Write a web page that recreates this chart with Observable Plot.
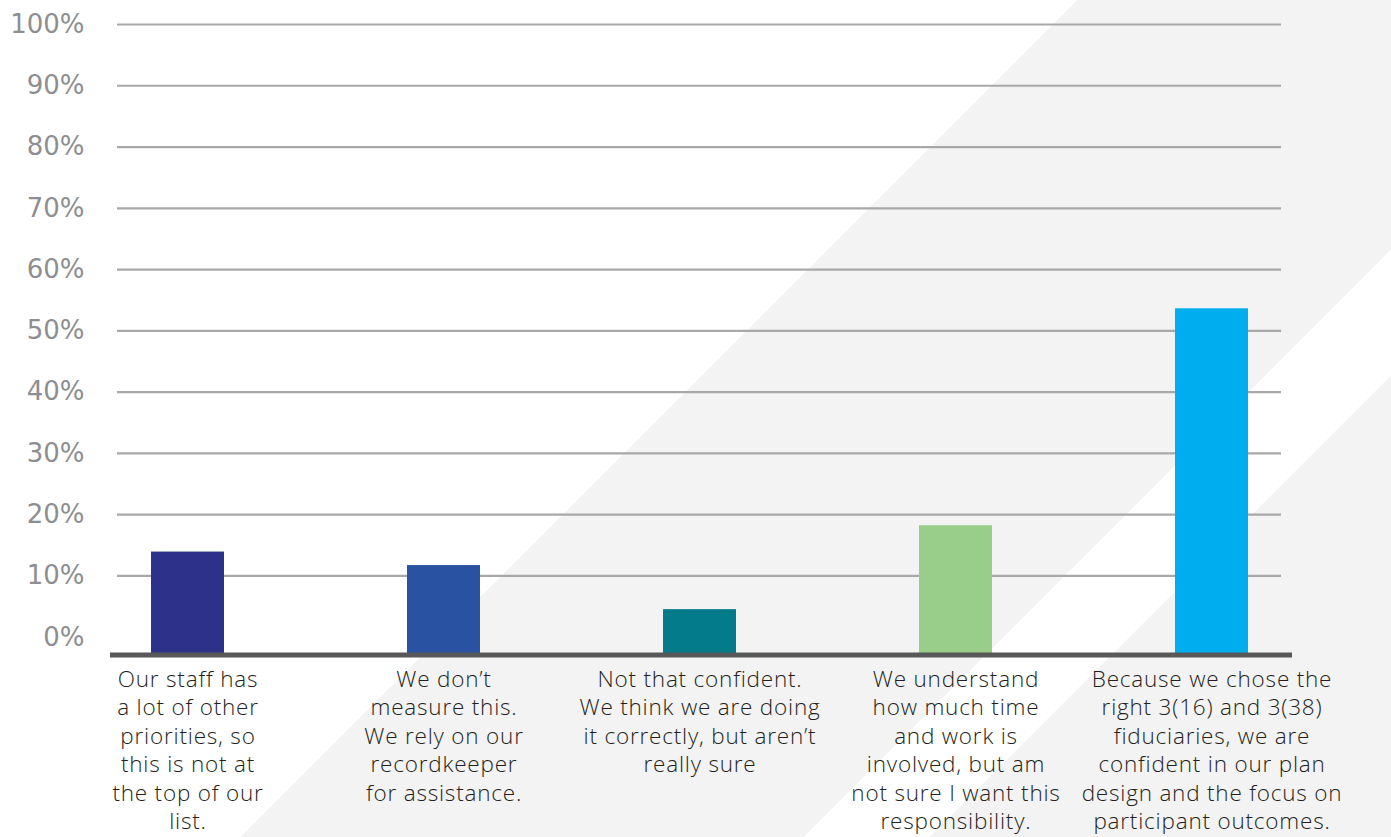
<!DOCTYPE html>
<html>
<head>
<meta charset="utf-8">
<script src="https://cdn.jsdelivr.net/npm/d3@7"></script>
<script src="https://cdn.jsdelivr.net/npm/@observablehq/plot@0.6"></script>
<style>
  html, body { margin: 0; padding: 0; background: #fff; }
  #page {
    width: 1391px; height: 837px; overflow: hidden;
    background: linear-gradient(135deg,
      #ffffff 762px, #f3f3f3 762px,
      #f3f3f3 1160px, #ffffff 1160px,
      #ffffff 1249px, #f3f3f3 1249px);
  }
  #page svg { display: block; }
  .ylab text { font-family: "DejaVu Sans", sans-serif; font-weight: 400; }
  .xlab text { font-family: "Open Sans", sans-serif; font-weight: 300; letter-spacing: 0.8px; }
</style>
</head>
<body>
<div id="page"></div>
<script>
// ---- data ----
const categories = ["staff", "measure", "notConfident", "understand", "because"];
const categoryLabels = [
  "Our staff has\na lot of other\npriorities, so\nthis is not at\nthe top of our\nlist.",
  "We don’t\nmeasure this.\nWe rely on our\nrecordkeeper\nfor assistance.",
  "Not that confident.\nWe think we are doing\nit correctly, but aren’t\nreally sure",
  "We understand\nhow much time\nand work is\ninvolved, but am\nnot sure I want this\nresponsibility.",
  "Because we chose the\nright 3(16) and 3(38)\nfiduciaries, we are\nconfident in our plan\ndesign and the focus on\nparticipant outcomes."
];
const values = [13.9, 11.7, 4.5, 18.2, 53.6];
const palette = ["#2e3189", "#2a52a3", "#047b8b", "#98cd8a", "#00adee"];
const yTicks = [0, 10, 20, 30, 40, 50, 60, 70, 80, 90, 100];
const yTickLabels = yTicks.map(t => t + "%");
const yFloor = -2.9; // where the category axis line sits, just under 0%

// ---- build ----
const data = categories.map((c, i) => ({key: c, value: values[i]}));
const labelOf = new Map(categories.map((c, i) => [c, categoryLabels[i]]));
const tickLabelOf = new Map(yTicks.map((t, i) => [t, yTickLabels[i]]));

const chart = Plot.plot({
  width: 1391,
  height: 837,
  marginTop: 24,
  marginBottom: 182.5,
  marginLeft: 117,
  marginRight: 110,
  style: {background: "transparent", fontFamily: "'Open Sans', Lato, sans-serif"},
  x: {domain: categories, paddingInner: 0.715, paddingOuter: 0.13, label: null},
  y: {domain: [yFloor, 100], label: null},
  color: {domain: categories, range: palette},
  marks: [
    Plot.gridY(yTicks.filter(t => t > 0), {stroke: "#a8a8ab", strokeWidth: 2.2, strokeOpacity: 1}),
    Plot.barY(data, {x: "key", y1: () => yFloor, y2: "value", fill: "key"}),
    Plot.ruleY([yFloor], {stroke: "#58585a", strokeWidth: 5, insetLeft: -7, insetRight: -11}),
    Plot.axisY(yTicks, {
      tickSize: 0, tickPadding: 33, label: null,
      tickFormat: t => tickLabelOf.get(t),
      fontSize: 26, color: "#8e8e91", className: "ylab"
    }),
    Plot.axisX({
      tickSize: 0, tickPadding: 12, label: null,
      tickFormat: k => labelOf.get(k),
      fontSize: 22.5, lineHeight: 1.26, color: "#231f20",
      textOverflow: null, className: "xlab"
    })
  ]
});
document.getElementById("page").appendChild(chart);
</script>
</body>
</html>
